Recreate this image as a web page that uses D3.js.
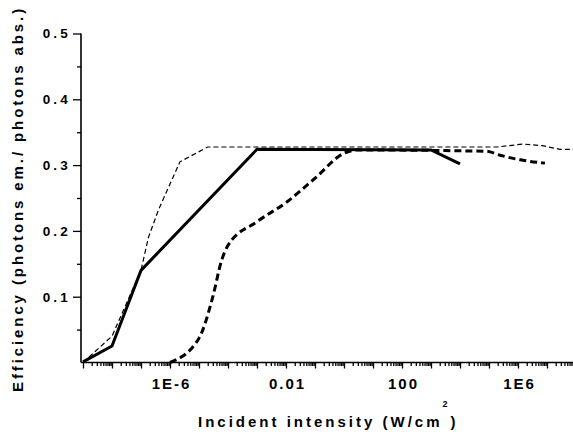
<!DOCTYPE html>
<html>
<head>
<meta charset="utf-8">
<script src="https://cdn.jsdelivr.net/npm/d3@7"></script>
<style>
  html, body { margin: 0; padding: 0; background: #fff; }
  svg { display: block; }
  text { font-family: Arial, "Liberation Sans", sans-serif; font-weight: bold; fill: #000; }
</style>
</head>
<body>
<svg id="chart" width="573" height="436"></svg>
<script>
// Incident intensity (W/cm^2) and efficiency for each curve
const solidX = [1e-9, 1e-8, 1e-7, 1e-3, 1e3, 1e4];
const solidY = [0.001, 0.025, 0.14, 0.324, 0.323, 0.302];

const thinDashX = [1e-9, 1e-8, 1e-7, 1.8e-7, 4e-7, 2.2e-6, 2e-5, 1.9e5, 1.5e6, 7e6, 2.8e7, 1e8];
const thinDashY = [0, 0.04, 0.14, 0.19, 0.232, 0.305, 0.3275, 0.3275, 0.332, 0.3295, 0.324, 0.324];

const thickDashX = [1e-6, 1e-5, 3e-5, 6e-5, 1e-4, 1e-3, 1e-2, 1e-1, 1, 3, 8e4, 2.4e5, 1.2e6, 8.5e6];
const thickDashY = [0, 0.037, 0.1, 0.155, 0.178, 0.214, 0.243, 0.28, 0.318, 0.323, 0.321, 0.315, 0.308, 0.303];

// Axis ticks
const xLabelValues = [1e-6, 1e-2, 1e2, 1e6];
const xLabelTexts = ["1E-6", "0.01", "100", "1E6"];
const yMajorTicks = [0.1, 0.2, 0.3, 0.4, 0.5];
const yMinorTicks = [0.05, 0.15, 0.25, 0.35, 0.45];

const svg = d3.select("#chart");

const x = d3.scaleLog().domain([1e-9, 1e8]).range([83, 576]);
const y = d3.scaleLinear().domain([0, 0.5]).range([362.5, 33.5]);

// every decade plus the 2..9 minor positions
const xMajor = d3.range(-9, 9).map(e => Math.pow(10, e));
const xMinor = [];
d3.range(-9, 8).forEach(e => { for (let m = 2; m <= 9; m++) xMinor.push(m * Math.pow(10, e)); });

const gx = svg.append("g").attr("transform", `translate(0,${y(0)})`);
gx.append("line").attr("x1", 81).attr("x2", 573).attr("y1", 0).attr("y2", 0)
  .attr("stroke", "#000").attr("stroke-width", 1.6);
gx.call(g => {
  const minor = d3.axisBottom(x).tickValues(xMinor).tickSize(3.5).tickFormat("");
  const major = d3.axisBottom(x).tickValues(xMajor).tickSize(6).tickFormat("");
  const a = g.append("g").call(minor); a.select(".domain").remove();
  const b = g.append("g").call(major); b.select(".domain").remove();
  g.selectAll(".tick line").attr("stroke", "#000").attr("stroke-width", 1.3);
});
const xAxisLabels = d3.axisBottom(x).tickValues(xLabelValues).tickSize(0)
  .tickFormat((d, i) => xLabelTexts[i]);
const gxl = gx.append("g").call(xAxisLabels);
gxl.select(".domain").remove();
gxl.selectAll("text").attr("y", 26.5).attr("dy", 0).attr("dx", 1)
  .style("font-size", "15px").style("letter-spacing", "2px")
  .style("font-family", "Arial, 'Liberation Sans', sans-serif").style("font-weight", "bold");

const gy = svg.append("g").attr("transform", "translate(81,0)");
gy.append("line").attr("x1", 0).attr("x2", 0).attr("y1", y(0)).attr("y2", y(0.5))
  .attr("stroke", "#000").attr("stroke-width", 1.6);
const yMinorAxis = gy.append("g").call(d3.axisLeft(y).tickValues(yMinorTicks).tickSize(4).tickFormat(""));
yMinorAxis.select(".domain").remove();
const yMajorAxis = gy.append("g").call(d3.axisLeft(y).tickValues(yMajorTicks).tickSize(8)
  .tickFormat(d3.format(".1f")));
yMajorAxis.select(".domain").remove();
gy.selectAll(".tick line").attr("stroke", "#000").attr("stroke-width", 1.3);
yMajorAxis.selectAll("text").attr("x", -10)
  .style("font-size", "13.5px").style("letter-spacing", "3.2px")
  .style("font-family", "Arial, 'Liberation Sans', sans-serif").style("font-weight", "bold");

// Axis titles
const xt = svg.append("text").attr("x", 198).attr("y", 427)
  .style("font-size", "15px").style("letter-spacing", "3px");
xt.append("tspan").text("Incident intensity (W/cm");
xt.append("tspan").attr("dy", -20).style("font-size", "9px").style("letter-spacing", "0px").text("2");
xt.append("tspan").attr("dy", 20).attr("dx", 3).text(")");

svg.append("text").attr("transform", "translate(22.5,392) rotate(-90)")
  .style("font-size", "15px").style("letter-spacing", "2.9px")
  .text("Efficiency (photons em./ photons abs.)");

// Curves
const line = d3.line().x(d => x(d[0])).y(d => y(d[1]));
const plot = svg.append("g");

plot.append("path").datum(d3.zip(thinDashX, thinDashY)).attr("d", line)
  .attr("fill", "none").attr("stroke", "#000").attr("stroke-width", 1.2)
  .attr("stroke-dasharray", "5,3");

plot.append("path").datum(d3.zip(thickDashX, thickDashY))
  .attr("d", line.curve(d3.curveMonotoneX))
  .attr("fill", "none").attr("stroke", "#000").attr("stroke-width", 3)
  .attr("stroke-dasharray", "7,4");

plot.append("path").datum(d3.zip(solidX, solidY)).attr("d", d3.line().x(d => x(d[0])).y(d => y(d[1])))
  .attr("fill", "none").attr("stroke", "#000").attr("stroke-width", 3)
  .attr("stroke-linejoin", "miter");
</script>
</body>
</html>
